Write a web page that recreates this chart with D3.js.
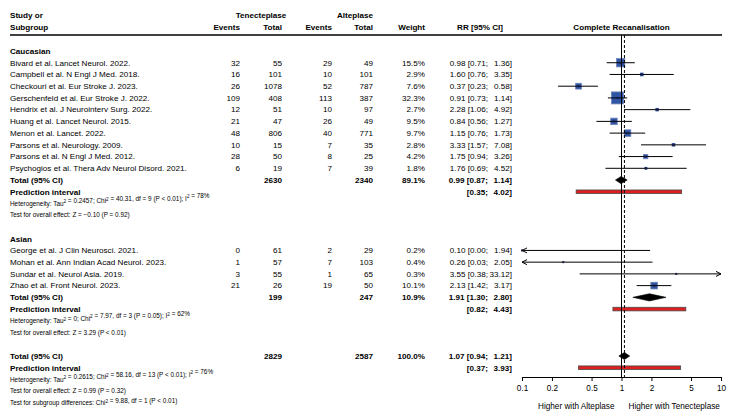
<!DOCTYPE html>
<html>
<head>
<meta charset="utf-8">
<script src="https://cdn.jsdelivr.net/npm/d3@7"></script>
<style>
  html, body { margin: 0; padding: 0; background: #fff; }
  svg { display: block; font-family: "Liberation Sans", Arial, Helvetica, sans-serif; }
</style>
</head>
<body>
<svg id="chart" width="738" height="416"></svg>
<script>
// ---------------- DATA ----------------
const studyLabels = [
  "Bivard et al. Lancet Neurol. 2022.",
  "Campbell et al. N Engl J Med. 2018.",
  "Checkouri et al. Eur Stroke J. 2023.",
  "Gerschenfeld et al. Eur Stroke J. 2022.",
  "Hendrix et al. J Neurointerv Surg. 2022.",
  "Huang et al. Lancet Neurol. 2015.",
  "Menon et al. Lancet. 2022.",
  "Parsons et al. Neurology. 2009.",
  "Parsons et al. N Engl J Med. 2012.",
  "Psychogios et al. Thera Adv Neurol Disord. 2021.",
  "George et al. J Clin Neurosci. 2021.",
  "Mohan et al. Ann Indian Acad Neurol. 2023.",
  "Sundar et al. Neurol Asia. 2019.",
  "Zhao et al. Front Neurol. 2023."
];
const studyGroup = ["Caucasian","Caucasian","Caucasian","Caucasian","Caucasian","Caucasian","Caucasian","Caucasian","Caucasian","Caucasian","Asian","Asian","Asian","Asian"];
const teEvents = [32, 16, 26, 109, 12, 21, 48, 10, 28, 6, 0, 1, 3, 21];
const teTotal  = [55, 101, 1078, 408, 51, 47, 806, 15, 50, 19, 61, 57, 55, 26];
const alEvents = [29, 10, 52, 113, 10, 26, 40, 7, 8, 7, 2, 7, 1, 19];
const alTotal  = [49, 101, 787, 387, 97, 49, 771, 35, 25, 39, 29, 103, 65, 50];
const weights  = [15.5, 2.9, 7.6, 32.3, 2.7, 9.5, 9.7, 2.8, 4.2, 1.8, 0.2, 0.4, 0.3, 10.1];
const rr       = [0.98, 1.60, 0.37, 0.91, 2.28, 0.84, 1.15, 3.33, 1.75, 1.76, 0.10, 0.26, 3.55, 2.13];
const lower    = [0.71, 0.76, 0.23, 0.73, 1.06, 0.56, 0.76, 1.57, 0.94, 0.69, 0.00, 0.03, 0.38, 1.42];
const upper    = [1.36, 3.35, 0.58, 1.14, 4.92, 1.27, 1.73, 7.08, 3.26, 4.52, 1.94, 2.05, 33.12, 3.17];

const subgroupNames = ["Caucasian", "Asian"];
const subTeTotal = [2630, 199];
const subAlTotal = [2340, 247];
const subWeight  = [89.1, 10.9];
const subRR      = [0.99, 1.91];
const subLower   = [0.87, 1.30];
const subUpper   = [1.14, 2.80];
const subPredLower = [0.35, 0.82];
const subPredUpper = [4.02, 4.43];
const subHet = [
  "Heterogeneity: Tau^2 = 0.2457; Chi^2 = 40.31, df = 9 (P < 0.01); I^2 = 78%",
  "Heterogeneity: Tau^2 = 0; Chi^2 = 7.97, df = 3 (P = 0.05); I^2 = 62%"
];
const subTest = [
  "Test for overall effect: Z = \u22120.10 (P = 0.92)",
  "Test for overall effect: Z = 3.29 (P < 0.01)"
];

const overallTeTotal = 2829;
const overallAlTotal = 2587;
const overallWeight = 100.0;
const overallRR = 1.07, overallLower = 0.94, overallUpper = 1.21;
const overallPredLower = 0.37, overallPredUpper = 3.93;
const overallHet = "Heterogeneity: Tau^2 = 0.2615; Chi^2 = 58.16, df = 13 (P < 0.01); I^2 = 76%";
const overallTest = "Test for overall effect: Z = 0.99 (P = 0.32)";
const subgroupDiffTest = "Test for subgroup differences: Chi^2 = 9.88, df = 1 (P < 0.01)";

const axisTicks = [0.1, 0.2, 0.5, 1, 2, 5, 10];
const axisTickLabels = ["0.1", "0.2", "0.5", "1", "2", "5", "10"];
const leftLabel = "Higher with Alteplase";
const rightLabel = "Higher with Tenecteplase";
const plotTitle = "Complete Recanalisation";

// ---------------- LAYOUT ----------------
const svg = d3.select("#chart");
const FS = 8.1, FSH = 6.4, FSA = 8.2;

const rows = [];
subgroupNames.forEach((g, gi) => {
  rows.push({type: "group", label: g});
  studyLabels.forEach((s, i) => { if (studyGroup[i] === g) rows.push({type: "study", i}); });
  rows.push({type: "total", te: subTeTotal[gi], al: subAlTotal[gi], w: subWeight[gi], est: subRR[gi], lo: subLower[gi], hi: subUpper[gi]});
  rows.push({type: "pred", lo: subPredLower[gi], hi: subPredUpper[gi]});
  rows.push({type: "text", label: subHet[gi]});
  rows.push({type: "text", label: subTest[gi]});
  rows.push({type: "blank"});
});
rows.push({type: "total", te: overallTeTotal, al: overallAlTotal, w: overallWeight, est: overallRR, lo: overallLower, hi: overallUpper});
rows.push({type: "pred", lo: overallPredLower, hi: overallPredUpper});
rows.push({type: "text", label: overallHet});
rows.push({type: "text", label: overallTest});
rows.push({type: "text", label: subgroupDiffTest});

const y = d3.scaleLinear().domain([0, 26]).range([51, 356]);
const x = d3.scaleLog().domain([0.1, 10]).range([522, 721]).clamp(true);
const sqSize = d3.scaleSqrt().domain([0, 32.3]).range([0, 12]);

const col = {label: 10, teE: 240, teT: 282, alE: 332, alT: 373, w: 425, ci1: 488, ci2: 512};

const f2 = d3.format(".2f");
const fw = d3.format(".1f");

function txt(g, xx, yy, s, anchor, size, bold) {
  return g.append("text").attr("x", xx).attr("y", yy).attr("dy", "0.35em")
    .attr("text-anchor", anchor).attr("font-size", size)
    .attr("font-weight", bold ? "bold" : "normal").attr("fill", "#000").text(s);
}
function supText(g, xx, yy, s, size) {
  const t = g.append("text").attr("x", xx).attr("y", yy).attr("dy", "0.35em")
    .attr("font-size", size).attr("fill", "#000");
  const parts = s.split("^2");
  parts.forEach((p, k) => {
    t.append("tspan").text(p);
    if (k < parts.length - 1) {
      t.append("tspan").attr("font-size", size * 0.72).attr("dy", -size * 0.38).text("2");
      t.append("tspan").attr("dy", size * 0.38).text("");
    }
  });
}
function ciText(g, yy, lo, hi, est, bold) {
  const left = (est != null ? f2(est) + " " : "") + "[" + f2(lo) + ";";
  txt(g, col.ci1, yy, left, "end", FS, bold);
  txt(g, col.ci2, yy, f2(hi) + "]", "end", FS, bold);
}

const gText = svg.append("g");
const gPlot = svg.append("g");

// header
txt(gText, col.label, 15, "Study or", "start", FS, true);
txt(gText, col.label, 27, "Subgroup", "start", FS, true);
txt(gText, 261, 15, "Tenecteplase", "middle", FS, true);
txt(gText, col.teE, 27, "Events", "end", FS, true);
txt(gText, col.teT, 27, "Total", "end", FS, true);
txt(gText, 355, 15, "Alteplase", "middle", FS, true);
txt(gText, col.alE, 27, "Events", "end", FS, true);
txt(gText, col.alT, 27, "Total", "end", FS, true);
txt(gText, col.w, 27, "Weight", "end", FS, true);
txt(gText, 480, 27, "RR [95% CI]", "middle", FS, true);
txt(gText, x(1), 27, plotTitle, "middle", FS, true);
svg.append("line").attr("x1", 10).attr("x2", 722).attr("y1", 35).attr("y2", 35)
  .attr("stroke", "#000").attr("stroke-width", 1.5);

// reference lines
svg.append("line").attr("x1", x(1)).attr("x2", x(1)).attr("y1", 35).attr("y2", 377)
  .attr("stroke", "#000").attr("stroke-width", 1);
svg.append("line").attr("x1", x(overallRR)).attr("x2", x(overallRR)).attr("y1", 35).attr("y2", 377)
  .attr("stroke", "#000").attr("stroke-width", 1).attr("stroke-dasharray", "3,2");

function arrowHead(xx, yy, dir) {
  gPlot.append("path")
    .attr("d", `M${xx - dir * 5},${yy - 2.5} L${xx},${yy} L${xx - dir * 5},${yy + 2.5}`)
    .attr("fill", "none").attr("stroke", "#000").attr("stroke-width", 1);
}
function diamond(yy, lo, est, hi) {
  const h = 3.6;
  gPlot.append("path")
    .attr("d", `M${x(lo)},${yy} L${x(est)},${yy - h} L${x(hi)},${yy} L${x(est)},${yy + h} Z`)
    .attr("fill", "#000").attr("stroke", "#000").attr("stroke-width", 0.6);
}
function predBar(yy, lo, hi) {
  gPlot.append("rect").attr("x", x(lo)).attr("y", yy - 1.8).attr("width", x(hi) - x(lo)).attr("height", 3.6)
    .attr("fill", "#de1f1f").attr("stroke", "#4a4a4a").attr("stroke-width", 0.8);
}

rows.forEach((r, k) => {
  const yy = y(k);
  if (r.type === "group") {
    txt(gText, col.label, yy, r.label, "start", FS, true);
  } else if (r.type === "study") {
    const i = r.i;
    txt(gText, col.label, yy, studyLabels[i], "start", FS, false);
    txt(gText, col.teE, yy, teEvents[i], "end", FS, false);
    txt(gText, col.teT, yy, teTotal[i], "end", FS, false);
    txt(gText, col.alE, yy, alEvents[i], "end", FS, false);
    txt(gText, col.alT, yy, alTotal[i], "end", FS, false);
    txt(gText, col.w, yy, fw(weights[i]) + "%", "end", FS, false);
    ciText(gText, yy, lower[i], upper[i], rr[i], false);
    const s = sqSize(weights[i]);
    gPlot.append("rect").attr("x", x(rr[i]) - s / 2).attr("y", yy - s / 2).attr("width", s).attr("height", s)
      .attr("fill", "#2f55a3").attr("stroke", "#6f86bd").attr("stroke-width", s > 4 ? 0.8 : 0);
    gPlot.append("line").attr("x1", x(lower[i])).attr("x2", x(upper[i])).attr("y1", yy).attr("y2", yy)
      .attr("stroke", "#000").attr("stroke-width", 1);
    if (lower[i] < 0.1) arrowHead(x(0.1), yy, -1);
    if (upper[i] > 10) arrowHead(x(10), yy, 1);
    gPlot.append("rect").attr("x", x(rr[i]) - 1).attr("y", yy - 1).attr("width", 2).attr("height", 2)
      .attr("fill", "#1a1a40");
  } else if (r.type === "total") {
    txt(gText, col.label, yy, "Total (95% CI)", "start", FS, true);
    txt(gText, col.teT, yy, r.te, "end", FS, true);
    txt(gText, col.alT, yy, r.al, "end", FS, true);
    txt(gText, col.w, yy, fw(r.w) + "%", "end", FS, true);
    ciText(gText, yy, r.lo, r.hi, r.est, true);
    diamond(yy, r.lo, r.est, r.hi);
  } else if (r.type === "pred") {
    txt(gText, col.label, yy, "Prediction interval", "start", FS, true);
    ciText(gText, yy, r.lo, r.hi, null, true);
    predBar(yy, r.lo, r.hi);
  } else if (r.type === "text") {
    supText(gText, col.label, yy, r.label, FSH);
  }
});

// axis
const axis = d3.axisBottom(x).tickValues(axisTicks)
  .tickFormat((d, i) => axisTickLabels[i]).tickSize(4).tickSizeOuter(0).tickPadding(4);
const gAxis = svg.append("g").attr("transform", "translate(0,377)").call(axis);
gAxis.selectAll("text").attr("font-size", FSA).attr("font-family", "Liberation Sans, Arial, sans-serif").attr("fill", "#000");
gAxis.selectAll("line, path").attr("stroke", "#000");

txt(svg, x(1) - 7, 406, leftLabel, "end", FSA, false);
txt(svg, x(1) + 7, 406, rightLabel, "start", FSA, false);
</script>
</body>
</html>
